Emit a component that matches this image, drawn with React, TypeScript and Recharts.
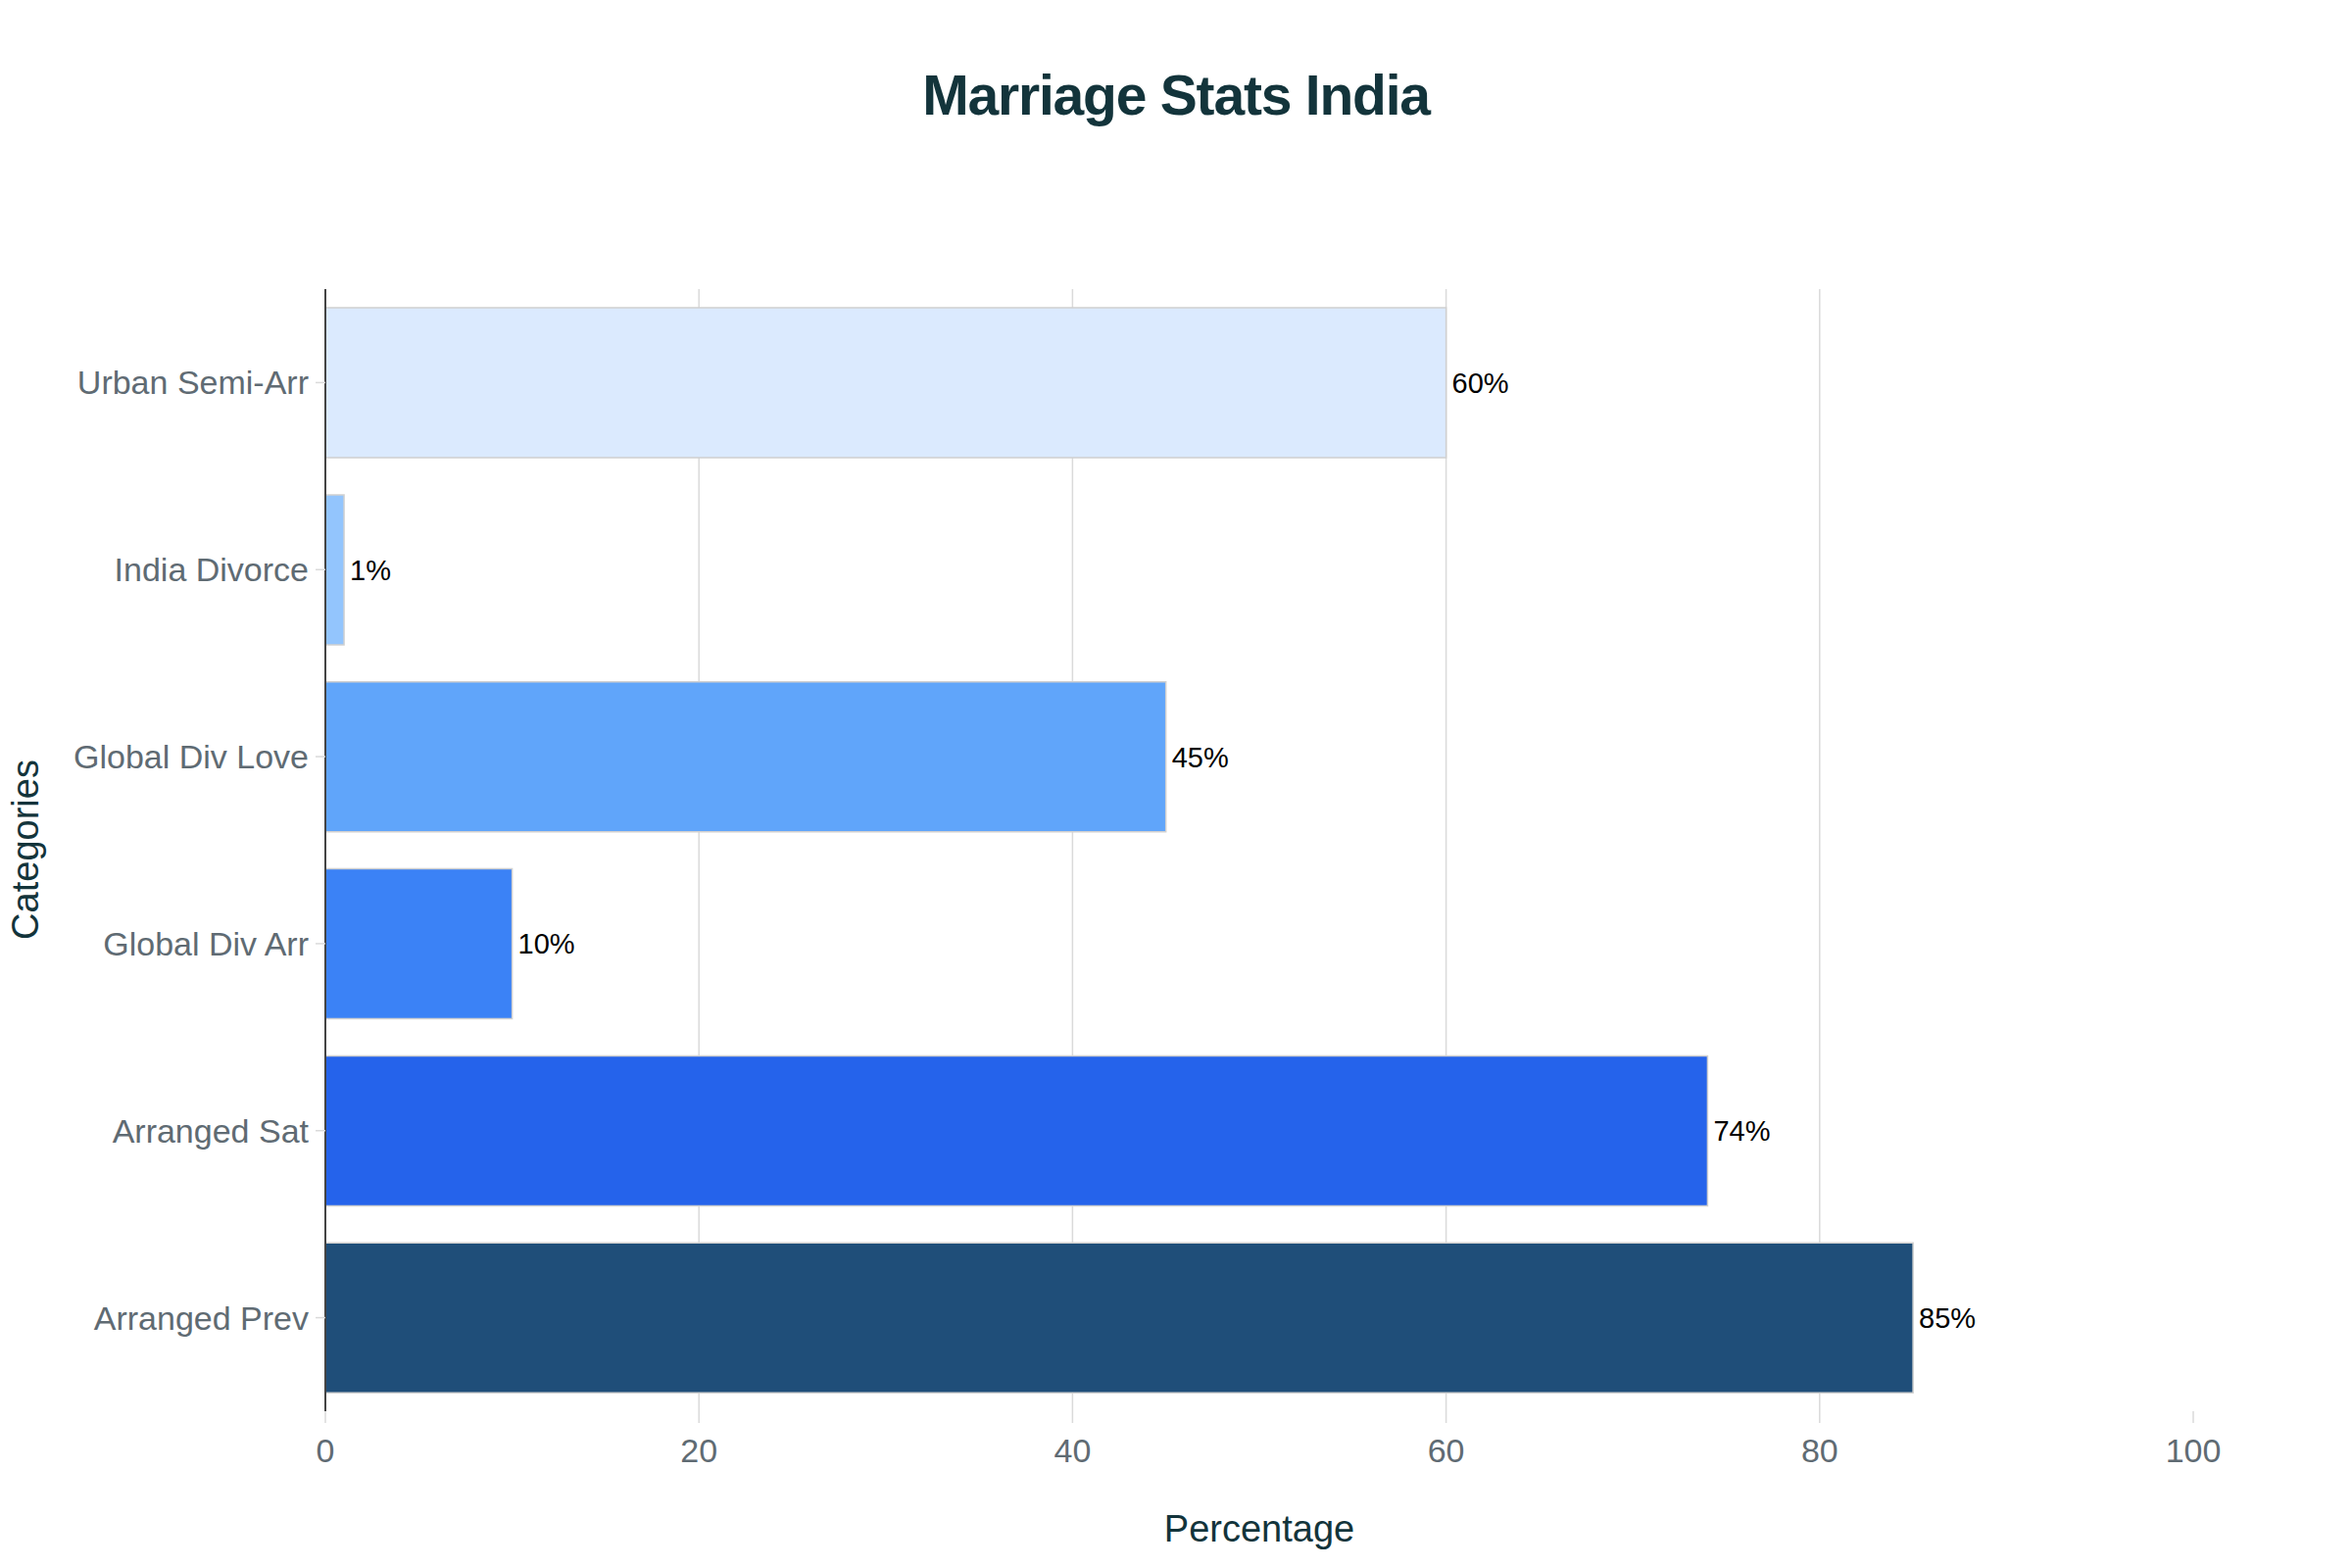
import React from 'react';
import {
  BarChart, Bar, XAxis, YAxis, Cell, LabelList, CartesianGrid,
} from 'recharts';

// categories listed bottom to top, as in the source chart
const categories = [
  'Arranged Prev',
  'Arranged Sat',
  'Global Div Arr',
  'Global Div Love',
  'India Divorce',
  'Urban Semi-Arr',
];
const percentages = [85, 74, 10, 45, 1, 60];
const barColors = ['#1F4E79', '#2563EB', '#3B82F6', '#60A5FA', '#93C5FD', '#DBEAFE'];
const xTicks = [0, 20, 40, 60, 80, 100];
const gridValues = [20, 40, 60, 80];

const data = categories.map((name, i) => ({ name, value: percentages[i] }));

const FONT = '"Liberation Sans", Arial, Helvetica, sans-serif';
const DARK = '#13343B';
const GRAY = '#5F6B73';

const gridGenerator = (props: any) => {
  const scale = props?.xAxis?.scale;
  if (typeof scale === 'function') return gridValues.map((v) => scale(v));
  // fallback: spread across the plot width
  const { offset } = props;
  return gridValues.map((v) => offset.left + (offset.width * v) / 100);
};

export default function App() {
  return (
    <div style={{ position: 'absolute', left: 0, top: 0, width: 2400, height: 1600, background: '#fff', fontFamily: FONT }}>
      <div
        style={{
          position: 'absolute', left: 0, width: 2400, top: 62, textAlign: 'center',
          fontSize: 57, fontWeight: 700, color: DARK, letterSpacing: -1.2, lineHeight: '70px',
        }}
      >
        Marriage Stats India
      </div>

      <BarChart
        width={2400}
        height={1600}
        data={data}
        layout="vertical"
        barCategoryGap="10%"
        margin={{ top: 295, right: 162, bottom: 100, left: 52 }}
        style={{ fontFamily: FONT }}
      >
        <CartesianGrid
          horizontal={false}
          stroke="#DADADA"
          strokeWidth={1.5}
          verticalCoordinatesGenerator={gridGenerator}
        />
        <XAxis
          type="number"
          domain={[0, 100]}
          ticks={xTicks}
          height={60}
          axisLine={false}
          tickLine={{ stroke: '#DADADA', strokeWidth: 1.5 }}
          tickSize={12}
          tickMargin={16}
          tick={{ fill: GRAY, fontSize: 34 }}
        />
        <YAxis
          type="category"
          dataKey="name"
          reversed
          width={280}
          axisLine={{ stroke: '#444', strokeWidth: 2 }}
          tickLine={{ stroke: '#DADADA', strokeWidth: 1.5 }}
          tickSize={10}
          tickMargin={7}
          tick={{ fill: GRAY, fontSize: 34 }}
        />
        <Bar dataKey="value" isAnimationActive={false} stroke="#D0D0D0" strokeWidth={1.5}>
          {data.map((d, i) => (
            <Cell key={d.name} fill={barColors[i]} />
          ))}
          <LabelList
            dataKey="value"
            position="right"
            offset={6}
            fill="#000"
            fontSize={29}
            formatter={(v: any) => `${v}%`}
          />
        </Bar>
      </BarChart>

      <div
        style={{
          position: 'absolute', left: 332, width: 1906, top: 1536, textAlign: 'center',
          fontSize: 38, color: DARK, lineHeight: '48px',
        }}
      >
        Percentage
      </div>
      <div
        style={{
          position: 'absolute', left: 26, top: 867, width: 0, height: 0,
        }}
      >
        <div
          style={{
            position: 'absolute', left: 0, top: 0, transform: 'translate(-50%, -50%) rotate(-90deg)',
            fontSize: 38, color: DARK, whiteSpace: 'nowrap', lineHeight: '48px',
          }}
        >
          Categories
        </div>
      </div>
    </div>
  );
}
